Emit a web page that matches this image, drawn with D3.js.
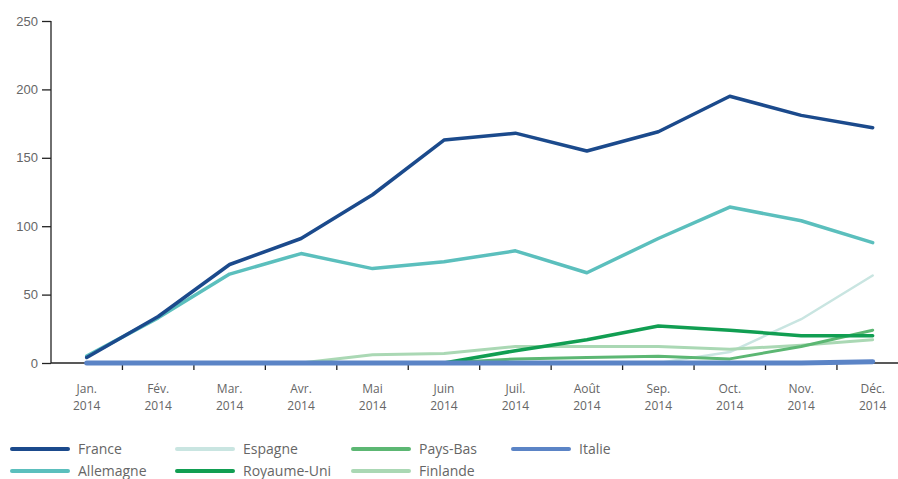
<!DOCTYPE html>
<html>
<head>
<meta charset="utf-8">
<script src="https://cdn.jsdelivr.net/npm/d3@7.9.0/dist/d3.min.js"></script>
<style>
  body { margin: 0; background: #fff; }
  svg { display: block; font-family: "Open Sans", "Noto Sans", sans-serif; }
  .axis text { fill: #666; font-size: 12px; }
  .axis path, .axis line { stroke: #222; stroke-width: 1.3; }
  .legend text { fill: #666; font-size: 14px; }
</style>
</head>
<body>
<div id="chart"></div>
<script>
const months = ['Jan.', 'Fév.', 'Mar.', 'Avr.', 'Mai', 'Juin', 'Juil.', 'Août', 'Sep.', 'Oct.', 'Nov.', 'Déc.'];
const year = '2014';
const yTicks = [0, 50, 100, 150, 200, 250];

const france = [4, 34, 72, 91, 123, 163, 168, 155, 169, 195, 181, 172];
const allemagne = [5, 33, 65, 80, 69, 74, 82, 66, 91, 114, 104, 88];
const espagne = [0, 0, 0, 0, 0, 0, 0, 0, 0, 8, 32, 64];
const paysBas = [0, 0, 0, 0, 0, 0, 3, 4, 5, 3, 12, 24];
const royaumeUni = [0, 0, 0, 0, 0, 0, 9, 17, 27, 24, 20, 20];
const finlande = [0, 0, 0, 0, 6, 7, 12, 12, 12, 10, 13, 17];
const italie = [0, 0, 0, 0, 0, 0, 0, 0, 0, 0, 0, 1];

// drawing order: back to front
const series = [
  { name: 'Espagne', values: espagne, color: '#c9e5e1', width: 2.5 },
  { name: 'Finlande', values: finlande, color: '#aad8b4', width: 3 },
  { name: 'Pays-Bas', values: paysBas, color: '#5cb773', width: 3 },
  { name: 'Royaume-Uni', values: royaumeUni, color: '#119e52', width: 3.5 },
  { name: 'Italie', values: italie, color: '#5b84c6', width: 5 },
  { name: 'Allemagne', values: allemagne, color: '#5bbfbd', width: 3.5 },
  { name: 'France', values: france, color: '#1b4a8c', width: 3.5 },
];

const legendOrder = ['France', 'Espagne', 'Pays-Bas', 'Italie', 'Allemagne', 'Royaume-Uni', 'Finlande'];

const width = 898;
const height = 479;
const margin = { top: 21, left: 51, bottom: 116 };
const bandWidth = 71.45;

const svg = d3.select('#chart')
  .append('svg')
  .attr('width', width)
  .attr('height', height);

const x = d3.scaleBand()
  .domain(months)
  .range([margin.left, margin.left + bandWidth * months.length])
  .padding(0);

const y = d3.scaleLinear()
  .domain([0, 250])
  .range([height - margin.bottom, margin.top]);

const xMid = (d) => x(d) + x.bandwidth() / 2;

// y axis
const yAxis = svg.append('g')
  .attr('class', 'axis')
  .attr('transform', `translate(${margin.left},0)`)
  .call(d3.axisLeft(y).tickValues(yTicks).tickSize(9).tickPadding(4));

yAxis.selectAll('text').style('font-size', '13px');
yAxis.select('.domain').attr('d', `M0,${y(250)}V${y(0)}`);

// x axis: ticks on band boundaries
const xAxis = svg.append('g')
  .attr('class', 'axis')
  .attr('transform', `translate(0,${y(0)})`);

xAxis.append('line')
  .attr('x1', margin.left)
  .attr('x2', width)
  .attr('y1', 0)
  .attr('y2', 0);

xAxis.selectAll('line.tick')
  .data(months.slice(1))
  .join('line')
  .attr('class', 'tick')
  .attr('x1', (d) => x(d))
  .attr('x2', (d) => x(d))
  .attr('y1', 0)
  .attr('y2', 7);

xAxis.selectAll('text.month')
  .data(months)
  .join('text')
  .attr('class', 'month')
  .attr('text-anchor', 'middle')
  .attr('x', xMid)
  .attr('y', 30)
  .text((d) => d);

xAxis.selectAll('text.year')
  .data(months)
  .join('text')
  .attr('class', 'year')
  .attr('text-anchor', 'middle')
  .attr('x', xMid)
  .attr('y', 47)
  .text(year);

// lines
const line = d3.line()
  .x((d, i) => xMid(months[i]))
  .y((d) => y(d));

svg.append('g')
  .selectAll('path')
  .data(series)
  .join('path')
  .attr('fill', 'none')
  .attr('stroke', (d) => d.color)
  .attr('stroke-width', (d) => d.width)
  .attr('stroke-linejoin', 'round')
  .attr('stroke-linecap', 'round')
  .attr('d', (d) => line(d.values));

// legend
const legendX = [12, 177, 353, 513];
const legendY = [449, 471];
const byName = new Map(series.map((d) => [d.name, d]));

const legend = svg.append('g')
  .attr('class', 'legend')
  .selectAll('g')
  .data(legendOrder)
  .join('g')
  .attr('transform', (d, i) => {
    const row = i < 4 ? 0 : 1;
    const col = i < 4 ? i : i - 4;
    return `translate(${legendX[col]},${legendY[row]})`;
  });

legend.append('line')
  .attr('x1', 0)
  .attr('x2', 56)
  .attr('stroke', (d) => byName.get(d).color)
  .attr('stroke-width', 4)
  .attr('stroke-linecap', 'round');

legend.append('text')
  .attr('x', 66)
  .attr('dy', '0.35em')
  .text((d) => d);
</script>
</body>
</html>
